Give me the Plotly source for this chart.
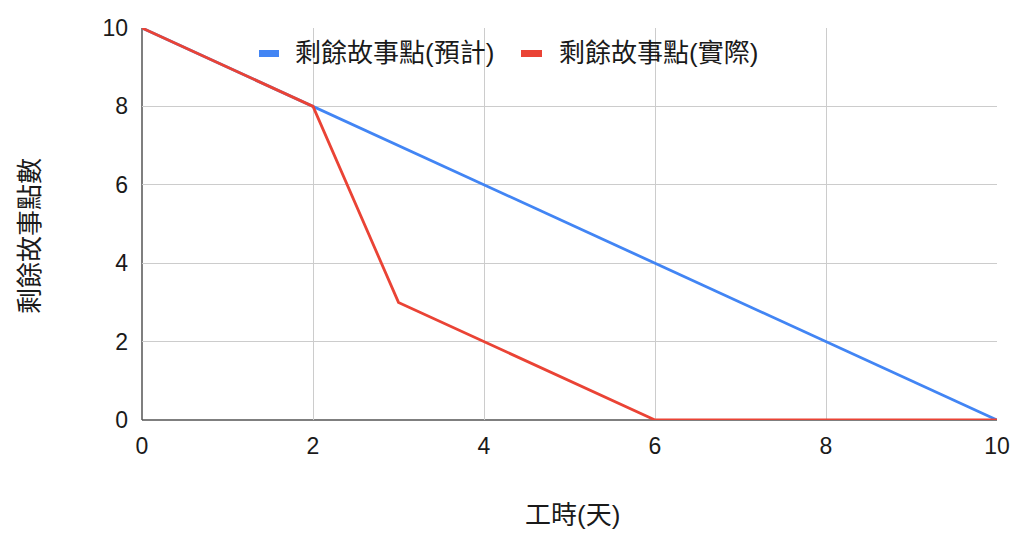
import plotly.graph_objects as go

days = [0, 1, 2, 3, 4, 5, 6, 7, 8, 9, 10]
planned = [10, 9, 8, 7, 6, 5, 4, 3, 2, 1, 0]
actual = [10, 9, 8, 3, 2, 1, 0, 0, 0, 0, 0]
series_names = ["剩餘故事點(預計)", "剩餘故事點(實際)"]
colors = ["#4285F4", "#EA4335"]
x_title = "工時(天)"
y_title = "剩餘故事點數"
tick_vals = [0, 2, 4, 6, 8, 10]

FONT = "Arial, 'Liberation Sans', 'Noto Sans CJK TC', sans-serif"
TXT = "#1a1a1a"

# plot area in page pixels (page body adds 8px offset, compensated below)
PL, PR, PT, PB = 142, 997, 28, 420


def px(x):
    return (x - PL) / (PR - PL)


def py(y):
    return 1 - (y - PT) / (PB - PT)


fig = go.Figure()
for ys, name, c in zip([planned, actual], series_names, colors):
    fig.add_trace(go.Scatter(x=days, y=ys, mode="lines", name=name,
                             line=dict(color=c, width=2.8), showlegend=False))

fig.update_layout(
    width=1008, height=523,
    margin=dict(l=134, r=19, t=20, b=111, autoexpand=False),
    paper_bgcolor="white", plot_bgcolor="white",
    font=dict(family=FONT, size=24, color=TXT),
    showlegend=False,
)
fig.update_xaxes(range=[0, 10], tickvals=tick_vals, showgrid=True, gridcolor="#cccccc",
                 gridwidth=1, zeroline=False, showline=False, ticks="", automargin=False,
                 tickfont=dict(size=23, color=TXT), ticklabelstandoff=10)
fig.update_yaxes(range=[0, 10], tickvals=tick_vals, showgrid=True, gridcolor="#cccccc",
                 gridwidth=1, zeroline=False, showline=False, ticks="", automargin=False,
                 tickfont=dict(size=23, color=TXT), ticklabelstandoff=13)
fig.add_shape(type="line", xref="paper", yref="paper", x0=0, x1=0, y0=0, y1=1,
              line=dict(color="#555555", width=1.5), layer="below")
fig.add_shape(type="line", xref="paper", yref="paper", x0=0, x1=1, y0=0, y1=0,
              line=dict(color="#555555", width=1.5), layer="below")

# custom legend
legend_items = [(259, 279, 293), (521, 542, 557)]
for (m0, m1, tx), name, c in zip(legend_items, series_names, colors):
    fig.add_shape(type="rect", xref="paper", yref="paper",
                  x0=px(m0), x1=px(m1), y0=py(57), y1=py(50),
                  fillcolor=c, line=dict(width=0), layer="above")
    fig.add_annotation(text=name, xref="paper", yref="paper", x=px(tx), y=py(53),
                       xanchor="left", yanchor="middle", showarrow=False,
                       font=dict(size=26, color=TXT))

# axis titles
fig.add_annotation(text=x_title, xref="paper", yref="paper", x=px(572), y=py(515),
                   xanchor="center", yanchor="middle", showarrow=False,
                   font=dict(size=26, color=TXT))
fig.add_annotation(text=y_title, xref="paper", yref="paper", x=px(30), y=py(236),
                   xanchor="center", yanchor="middle", showarrow=False, textangle=-90,
                   font=dict(size=26, color=TXT))

fig.write_html("out.html")
